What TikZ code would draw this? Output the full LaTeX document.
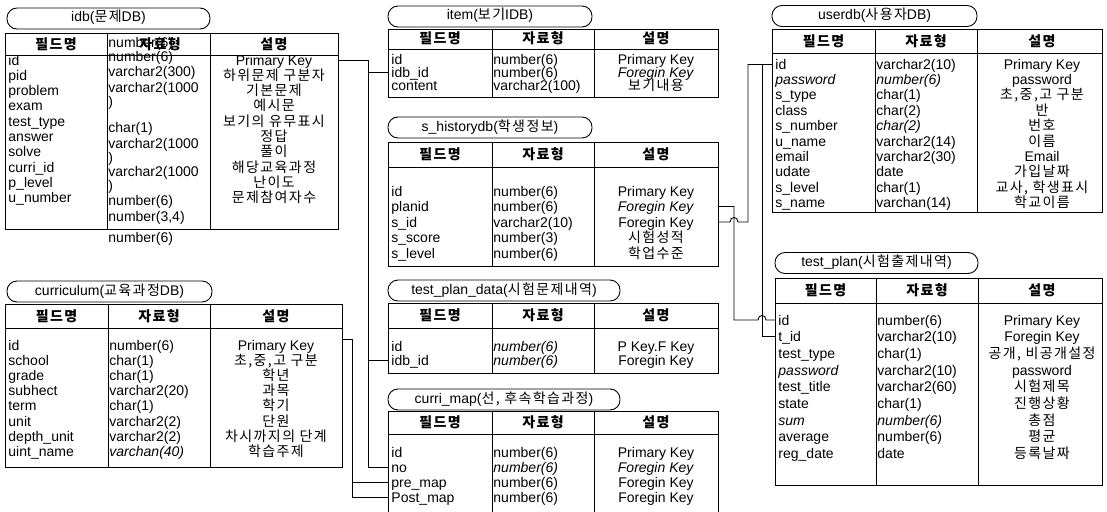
\documentclass[tikz,border=0pt]{standalone}
\usepackage{fontspec}
\setmainfont{Liberation Sans}
\newfontfamily\krf{Noto Sans CJK KR}[LetterSpace=10]
\usetikzlibrary{calc}
\newcommand\K[1]{{\krf #1}}
\newcommand\dbrow[9]{%
  \node[fld] (#1-#2-f) at (#4,#3) {#7};
  \node[fld] (#1-#2-t) at (#5,#3) {#8};
  \node[dsc] (#1-#2-d) at (#6,#3) {#9};}
\newcommand\dbrowfd[7]{%
  \node[fld] (#1-#2-f) at (#4,#3) {#6};
  \node[dsc] (#1-#2-d) at (#5,#3) {#7};}
\newcommand\hdrrow[5]{%
  \node[hdr] (#1-h1) at (#3,#2) {\K{필드명}};
  \node[hdr] (#1-h2) at (#4,#2) {\K{자료형}};
  \node[hdr] (#1-h3) at (#5,#2) {\K{설명}};}
\begin{document}
\begin{tikzpicture}[x=1pt,y=-1pt,line width=0.9pt,
  txt/.style={font=\fontsize{14}{15}\selectfont},
  pill/.style={draw,txt,rounded corners=10pt,inner sep=0pt,minimum height=21pt,text height=9pt,text depth=2pt},
  tbl/.style={draw,anchor=north west,inner sep=0pt,outer sep=0pt},
  fld/.style={txt,anchor=west,inner sep=0pt,text height=12pt,text depth=2pt},
  dsc/.style={txt,anchor=center,inner sep=0pt,text height=12pt,text depth=2pt},
  hdr/.style={dsc,font=\fontsize{14}{15}\selectfont\bfseries},
  conn/.style={draw,line width=0.9pt}]
\useasboundingbox[fill=white] (0,0) rectangle (1107,511);

% ---------------- idb
\node[pill,minimum width=203pt] (idb-t) at (108.5,18.5) {idb(\K{문제}DB)};
\node[tbl,minimum width=333pt,minimum height=196pt] (idb) at (5,33) {};
\draw (5,55) -- (338,55) (107,33) -- (107,229) (210,33) -- (210,229);
\node[hdr] (idb-h1) at (56,44) {\K{필드명}};
\node[fld] (idb-m0) at (108,43) {number(6)};
\node[hdr] (idb-h2) at (160,44) {\K{자료형}};
\node[hdr] (idb-h3) at (274,44) {\K{설명}};
\dbrowfd{idb}{1}{60}{8}{274}{id}{Primary Key}
\dbrowfd{idb}{2}{75.3}{8}{274}{pid}{\K{하위문제 구분자}}
\dbrowfd{idb}{3}{90.6}{8}{274}{problem}{\K{기본문제}}
\dbrowfd{idb}{4}{105.9}{8}{274}{exam}{\K{예시문}}
\dbrowfd{idb}{5}{121.2}{8}{274}{test\_type}{\K{보기의 유무표시}}
\dbrowfd{idb}{6}{136.5}{8}{274}{answer}{\K{정답}}
\dbrowfd{idb}{7}{151.8}{8}{274}{solve}{\K{풀이}}
\dbrowfd{idb}{8}{167.1}{8}{274}{curri\_id}{\K{해당교육과정}}
\dbrowfd{idb}{9}{182.4}{8}{274}{p\_level}{\K{난이도}}
\dbrowfd{idb}{10}{197.7}{8}{274}{u\_number}{\K{문제참여자수}}
\node[fld] (idb-m1) at (108,57) {number(6)};
\node[fld] (idb-m2) at (108,72) {varchar2(300)};
\node[fld] (idb-m3) at (108,87) {varchar2(1000};
\node[fld] (idb-m4) at (108,101) {)};
\node[fld] (idb-m5) at (108,127) {char(1)};
\node[fld] (idb-m6) at (108,143) {varchar2(1000};
\node[fld] (idb-m7) at (108,157) {)};
\node[fld] (idb-m8) at (108,171) {varchar2(1000};
\node[fld] (idb-m9) at (108,185) {)};
\node[fld] (idb-m10) at (108,200) {number(6)};
\node[fld] (idb-m11) at (108,216) {number(3,4)};
\node[fld] (idb-m12) at (108,237) {number(6)};

% ---------------- curriculum
\node[pill,minimum width=205pt] (cur-t) at (109.5,291.5) {curriculum(\K{교육과정}DB)};
\node[tbl,minimum width=337pt,minimum height=163pt] (cur) at (5,304) {};
\draw (5,328) -- (342,328) (108,304) -- (108,467) (210,304) -- (210,467);
\hdrrow{cur}{316}{56.5}{159}{276}
\dbrow{cur}{1}{345}{8}{109}{276}{id}{number(6)}{Primary Key}
\dbrow{cur}{2}{360.2}{8}{109}{276}{school}{char(1)}{\K{초,중,고 구분}}
\dbrow{cur}{3}{375.4}{8}{109}{276}{grade}{char(1)}{\K{학년}}
\dbrow{cur}{4}{390.6}{8}{109}{276}{subhect}{varchar2(20)}{\K{과목}}
\dbrow{cur}{5}{405.8}{8}{109}{276}{term}{char(1)}{\K{학기}}
\dbrow{cur}{6}{421}{8}{109}{276}{unit}{varchar2(2)}{\K{단원}}
\dbrow{cur}{7}{436.2}{8}{109}{276}{depth\_unit}{varchar2(2)}{\K{차시까지의 단계}}
\dbrow{cur}{8}{451.4}{8}{109}{276}{uint\_name}{\textit{varchan(40)}}{\K{학습주제}}

% ---------------- item
\node[pill,minimum width=204pt] (item-t) at (490,16.5) {item(\K{보기}IDB)};
\node[tbl,minimum width=330pt,minimum height=68pt] (item) at (388,29) {};
\draw (388,49) -- (718,49) (492,29) -- (492,97) (594,29) -- (594,97);
\hdrrow{item}{39}{440}{543}{656}
\dbrow{item}{1}{59.5}{391}{493}{656}{id}{number(6)}{Primary Key}
\dbrow{item}{2}{72.5}{391}{493}{656}{idb\_id}{number(6)}{\textit{Foregin Key}}
\dbrow{item}{3}{85.5}{391}{493}{656}{content}{varchar2(100)}{\K{보기내용}}

% ---------------- s_historydb
\node[pill,minimum width=204pt] (shd-t) at (490,127.5) {s\_historydb(\K{학생정보})};
\node[tbl,minimum width=330pt,minimum height=124pt] (shd) at (388,142) {};
\draw (388,167) -- (718,167) (492,142) -- (492,266) (594,142) -- (594,266);
\hdrrow{shd}{154.5}{440}{543}{656}
\dbrow{shd}{1}{191}{391}{493}{656}{id}{number(6)}{Primary Key}
\dbrow{shd}{2}{206.5}{391}{493}{656}{planid}{number(6)}{\textit{Foregin Key}}
\dbrow{shd}{3}{222}{391}{493}{656}{s\_id}{varchar2(10)}{Foregin Key}
\dbrow{shd}{4}{237.5}{391}{493}{656}{s\_score}{number(3)}{\K{시험성적}}
\dbrow{shd}{5}{253}{391}{493}{656}{s\_level}{number(6)}{\K{학업수준}}

% ---------------- test_plan_data
\node[pill,minimum width=232pt] (tpd-t) at (504,290.5) {test\_plan\_data(\K{시험문제내역})};
\node[tbl,minimum width=330pt,minimum height=70pt] (tpd) at (388,303) {};
\draw (388,328) -- (718,328) (492,303) -- (492,373) (594,303) -- (594,373);
\hdrrow{tpd}{315.5}{440}{543}{656}
\dbrow{tpd}{1}{346}{391}{493}{656}{id}{\textit{number(6)}}{P Key.F Key}
\dbrow{tpd}{2}{360}{391}{493}{656}{idb\_id}{\textit{number(6)}}{Foregin Key}

% ---------------- curri_map
\node[pill,minimum width=232pt] (cm-t) at (504,399.5) {curri\_map(\K{선, 후속학습과정})};
\node[tbl,minimum width=330pt,minimum height=115pt] (cm) at (388,411) {};
\draw (388,434) -- (718,434) (492,411) -- (492,526) (594,411) -- (594,526);
\hdrrow{cm}{422.5}{440}{543}{656}
\dbrow{cm}{1}{452}{391}{493}{656}{id}{number(6)}{Primary Key}
\dbrow{cm}{2}{467}{391}{493}{656}{no}{\textit{number(6)}}{\textit{Foregin Key}}
\dbrow{cm}{3}{482}{391}{493}{656}{pre\_map}{number(6)}{Foregin Key}
\dbrow{cm}{4}{497}{391}{493}{656}{Post\_map}{number(6)}{Foregin Key}

% ---------------- userdb
\node[pill,minimum width=205pt] (ud-t) at (874.5,16) {userdb(\K{사용자}DB)};
\node[tbl,minimum width=330pt,minimum height=183pt] (ud) at (772,29) {};
\draw (772,53) -- (1102,53) (875,29) -- (875,212) (977,29) -- (977,212);
\hdrrow{ud}{41}{823.5}{926}{1042}
\dbrow{ud}{1}{64}{775}{876}{1042}{id}{varchar2(10)}{Primary Key}
\dbrow{ud}{2}{79.4}{775}{876}{1042}{\textit{password}}{\textit{number(6)}}{password}
\dbrow{ud}{3}{94.8}{775}{876}{1042}{s\_type}{char(1)}{\K{초,중,고 구분}}
\dbrow{ud}{4}{110.2}{775}{876}{1042}{class}{char(2)}{\K{반}}
\dbrow{ud}{5}{125.6}{775}{876}{1042}{s\_number}{\textit{char(2)}}{\K{번호}}
\dbrow{ud}{6}{141}{775}{876}{1042}{u\_name}{varchar2(14)}{\K{이름}}
\dbrow{ud}{7}{156.4}{775}{876}{1042}{email}{varchar2(30)}{Email}
\dbrow{ud}{8}{171.8}{775}{876}{1042}{udate}{date}{\K{가입날짜}}
\dbrow{ud}{9}{187.2}{775}{876}{1042}{s\_level}{char(1)}{\K{교사, 학생표시}}
\dbrow{ud}{10}{202.6}{775}{876}{1042}{s\_name}{varchan(14)}{\K{학교이름}}

% ---------------- test_plan
\node[pill,minimum width=203pt] (tp-t) at (876.5,263) {test\_plan(\K{시험출제내역})};
\node[tbl,minimum width=327pt,minimum height=207pt] (tp) at (775,278) {};
\draw (775,303) -- (1102,303) (876,278) -- (876,485) (978,278) -- (978,485);
\hdrrow{tp}{290.5}{825.5}{927}{1042}
\dbrow{tp}{1}{320}{778}{877}{1042}{id}{number(6)}{Primary Key}
\dbrow{tp}{2}{336.7}{778}{877}{1042}{t\_id}{varchar2(10)}{Foregin Key}
\dbrow{tp}{3}{353.4}{778}{877}{1042}{test\_type}{char(1)}{\K{공개, 비공개설정}}
\dbrow{tp}{4}{370.1}{778}{877}{1042}{\textit{password}}{varchar2(10)}{password}
\dbrow{tp}{5}{386.8}{778}{877}{1042}{test\_title}{varchar2(60)}{\K{시험제목}}
\dbrow{tp}{6}{403.5}{778}{877}{1042}{state}{char(1)}{\K{진행상황}}
\dbrow{tp}{7}{420.2}{778}{877}{1042}{\textit{sum}}{\textit{number(6)}}{\K{총점}}
\dbrow{tp}{8}{436.9}{778}{877}{1042}{average}{number(6)}{\K{평균}}
\dbrow{tp}{9}{453.6}{778}{877}{1042}{reg\_date}{date}{\K{등록날짜}}

% ---------------- connectors
\coordinate (busA) at (368,0);
\coordinate (busC) at (352,0);
\coordinate (busP) at (734,0);
\coordinate (busS) at (748,0);
\coordinate (busT) at (762,0);
\draw[conn] (idb.east |- idb-1-f) -- (busA |- idb-1-f) -- (busA |- cm-2-f) -- (cm.west |- cm-2-f);
\draw[conn] (busA |- item-2-f) -- (item.west |- item-2-f);
\draw[conn] (busA |- tpd-2-f) -- (tpd.west |- tpd-2-f);
\draw[conn] ($(cur.east |- cur-1-f)+(0,-6)$) -| (busC |- cm-4-f) -- (cm.west |- cm-4-f);
\draw[conn] (busC |- cm-3-f) -- (cm.west |- cm-3-f);
\draw[conn] (busS |- ud-1-f) -- (ud.west |- ud-1-f);
\draw[conn] (shd.east |- shd-3-f) -- ($(busP |- shd-3-f)+(-4,0)$) .. controls +(0,-6) and +(0,-6) .. ($(busP |- shd-3-f)+(4,0)$) -- (busS |- shd-3-f) -- (busS |- ud-1-f);
\draw[conn] (busT |- ud-1-f) -- (busT |- tp-2-f) -- (tp.west |- tp-2-f);
\draw[conn] (shd.east |- shd-2-f) -- (busP |- shd-2-f) -- (busP |- tp-1-f) -- ($(busT |- tp-1-f)+(-4,0)$) .. controls +(0,-6) and +(0,-6) .. ($(busT |- tp-1-f)+(4,0)$) -- (tp.west |- tp-1-f);
\end{tikzpicture}
\end{document}
